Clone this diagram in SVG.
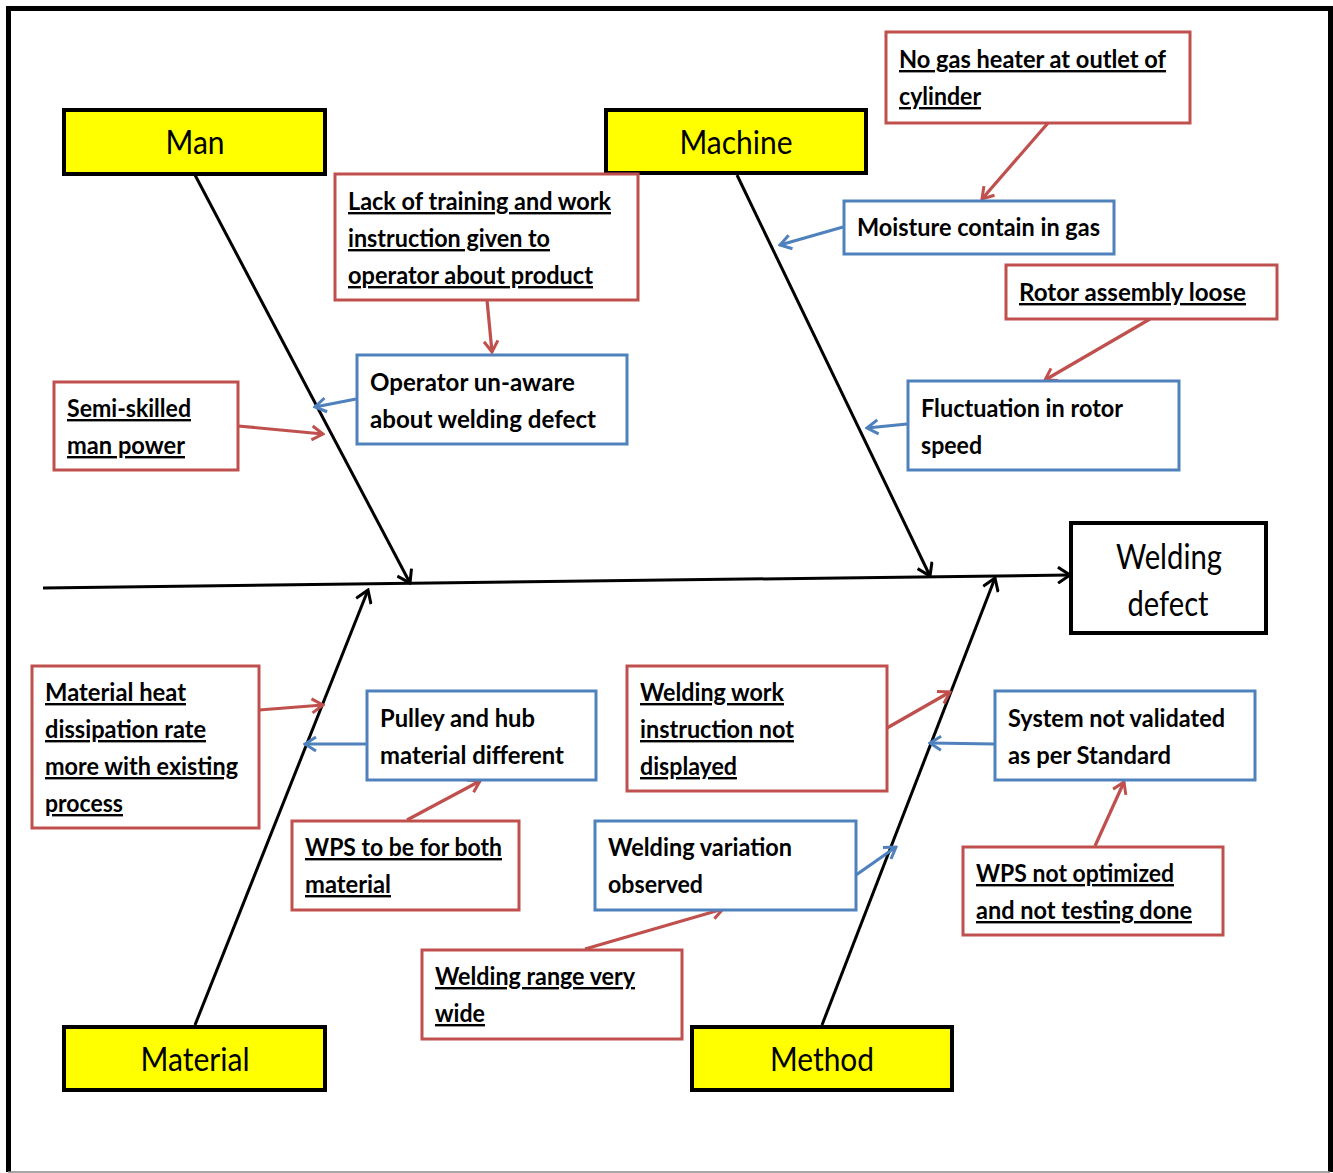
<svg xmlns="http://www.w3.org/2000/svg" width="1333" height="1173" viewBox="0 0 1333 1173">
<style>
.t{font-family:Lato,"Liberation Sans",sans-serif;font-weight:bold;font-size:24px;fill:#000}
.u{text-decoration:underline}
.lbl{font-family:Lato,"Liberation Sans",sans-serif;font-size:32px;fill:#000;text-anchor:middle}
.y{fill:#FFFF00;stroke:#000;stroke-width:4}
.r{fill:#fff;stroke:#C0504D;stroke-width:3}
.b{fill:#fff;stroke:#4F81BD;stroke-width:3}
.bone{stroke:#000;stroke-width:3;fill:none;marker-end:url(#ak)}
.ra{stroke:#C0504D;stroke-width:3.2;fill:none;marker-end:url(#ar)}
.ba{stroke:#4F81BD;stroke-width:3.2;fill:none;marker-end:url(#ab)}
</style>
<defs>
<marker id="ak" markerWidth="16" markerHeight="18" refX="14" refY="9" orient="auto" markerUnits="userSpaceOnUse"><path d="M2,1 L14,9 L2,17" fill="none" stroke="#000" stroke-width="3"/></marker>
<marker id="ar" markerWidth="16" markerHeight="18" refX="14" refY="9" orient="auto" markerUnits="userSpaceOnUse"><path d="M3,2 L14,9 L3,16" fill="none" stroke="#C0504D" stroke-width="3"/></marker>
<marker id="ab" markerWidth="16" markerHeight="18" refX="14" refY="9" orient="auto" markerUnits="userSpaceOnUse"><path d="M3,2 L14,9 L3,16" fill="none" stroke="#4F81BD" stroke-width="3"/></marker>
</defs>
<rect width="1333" height="1173" fill="#fff"/>
<path d="M8.5,1172 V8.5 H1330.5 V1172" fill="none" stroke="#000" stroke-width="5"/>
<line x1="8" y1="1172" x2="1330" y2="1172" stroke="#888" stroke-width="1.5"/>

<g id="connectors">
<path class="bone" d="M43,588 L1070,575"/>
<path class="bone" d="M195,175 L410,583"/>
<path class="bone" d="M737,175 L930,576"/>
<path class="bone" d="M195,1025 L368,590"/>
<path class="bone" d="M822,1025 L995,578"/>
<path class="ra" d="M487,300 L492,352"/>
<path class="ba" d="M356,399 L315,407"/>
<path class="ra" d="M238,426 L323,434"/>
<path class="ra" d="M1048,123 L982,199"/>
<path class="ba" d="M843,227 L780,245"/>
<path class="ra" d="M1150,319 L1045,380"/>
<path class="ba" d="M907,424 L867,428"/>
<path class="ra" d="M259,710 L323,705"/>
<path class="ba" d="M366,744 L305,744"/>
<path class="ra" d="M407,820 L480,781"/>
<path class="ra" d="M887,728 L950,692"/>
<path class="ba" d="M994,744 L930,743"/>
<path class="ra" d="M1095,846 L1124,782"/>
<path class="ba" d="M856,875 L896,847"/>
<path class="ra" d="M585,949 L723,909"/>
</g>

<g id="man"><rect class="y" x="64" y="110" width="261" height="64"/><text class="lbl" x="195" y="154" textLength="59" lengthAdjust="spacingAndGlyphs">Man</text></g>
<g id="machine"><rect class="y" x="606" y="110" width="260" height="63"/><text class="lbl" x="736" y="154" textLength="113" lengthAdjust="spacingAndGlyphs">Machine</text></g>
<g id="material"><rect class="y" x="64" y="1027" width="261" height="63"/><text class="lbl" x="195" y="1071" textLength="109" lengthAdjust="spacingAndGlyphs">Material</text></g>
<g id="method"><rect class="y" x="692" y="1027" width="260" height="63"/><text class="lbl" x="822" y="1071" textLength="104" lengthAdjust="spacingAndGlyphs">Method</text></g>
<g id="effect"><rect x="1071" y="523" width="195" height="110" fill="#fff" stroke="#000" stroke-width="4"/>
<text class="lbl" style="font-size:34px" x="1169" y="569" textLength="106" lengthAdjust="spacingAndGlyphs">Welding</text><text class="lbl" style="font-size:34px" x="1168" y="616" textLength="81" lengthAdjust="spacingAndGlyphs">defect</text></g>

<g id="lack"><rect class="r" x="335" y="174" width="303" height="126"/>
<text class="t u" x="348" y="210" textLength="263" lengthAdjust="spacingAndGlyphs">Lack of training and work</text>
<text class="t u" x="348" y="247" textLength="202" lengthAdjust="spacingAndGlyphs">instruction given to</text>
<text class="t u" x="348" y="284" textLength="245" lengthAdjust="spacingAndGlyphs">operator about product</text></g>

<g id="nogas"><rect class="r" x="886" y="32" width="304" height="91"/>
<text class="t u" x="899" y="68" textLength="267" lengthAdjust="spacingAndGlyphs">No gas heater at outlet of</text>
<text class="t u" x="899" y="105" textLength="82" lengthAdjust="spacingAndGlyphs">cylinder</text></g>

<g id="moisture"><rect class="b" x="844" y="201" width="270" height="53"/>
<text class="t" x="857" y="236" textLength="243" lengthAdjust="spacingAndGlyphs">Moisture contain in gas</text></g>

<g id="rotor"><rect class="r" x="1006" y="265" width="271" height="54"/>
<text class="t u" x="1019" y="301" textLength="227" lengthAdjust="spacingAndGlyphs">Rotor  assembly loose</text></g>

<g id="fluct"><rect class="b" x="908" y="381" width="271" height="89"/>
<text class="t" x="921" y="417" textLength="202" lengthAdjust="spacingAndGlyphs">Fluctuation in rotor</text>
<text class="t" x="921" y="454" textLength="61" lengthAdjust="spacingAndGlyphs">speed</text></g>

<g id="operator"><rect class="b" x="357" y="355" width="270" height="89"/>
<text class="t" x="370" y="391" textLength="205" lengthAdjust="spacingAndGlyphs">Operator  un-aware</text>
<text class="t" x="370" y="428" textLength="226" lengthAdjust="spacingAndGlyphs">about  welding defect</text></g>

<g id="semi"><rect class="r" x="54" y="382" width="184" height="88"/>
<text class="t u" x="67" y="417" textLength="124" lengthAdjust="spacingAndGlyphs">Semi-skilled</text>
<text class="t u" x="67" y="454" textLength="118" lengthAdjust="spacingAndGlyphs">man power</text></g>

<g id="heat"><rect class="r" x="32" y="666" width="227" height="162"/>
<text class="t u" x="45" y="701" textLength="141" lengthAdjust="spacingAndGlyphs">Material heat</text>
<text class="t u" x="45" y="738" textLength="161" lengthAdjust="spacingAndGlyphs">dissipation rate</text>
<text class="t u" x="45" y="775" textLength="193" lengthAdjust="spacingAndGlyphs">more with existing</text>
<text class="t u" x="45" y="812" textLength="78" lengthAdjust="spacingAndGlyphs">process</text></g>

<g id="pulley"><rect class="b" x="367" y="691" width="229" height="89"/>
<text class="t" x="380" y="727" textLength="155" lengthAdjust="spacingAndGlyphs">Pulley and hub</text>
<text class="t" x="380" y="764" textLength="184" lengthAdjust="spacingAndGlyphs">material different</text></g>

<g id="wpsboth"><rect class="r" x="292" y="821" width="227" height="89"/>
<text class="t u" x="305" y="856" textLength="197" lengthAdjust="spacingAndGlyphs">WPS to be for both</text>
<text class="t u" x="305" y="893" textLength="86" lengthAdjust="spacingAndGlyphs">material</text></g>

<g id="workinstr"><rect class="r" x="627" y="666" width="260" height="125"/>
<text class="t u" x="640" y="701" textLength="144" lengthAdjust="spacingAndGlyphs">Welding work</text>
<text class="t u" x="640" y="738" textLength="154" lengthAdjust="spacingAndGlyphs">instruction not</text>
<text class="t u" x="640" y="775" textLength="97" lengthAdjust="spacingAndGlyphs">displayed</text></g>

<g id="system"><rect class="b" x="995" y="691" width="260" height="89"/>
<text class="t" x="1008" y="727" textLength="217" lengthAdjust="spacingAndGlyphs">System not validated</text>
<text class="t" x="1008" y="764" textLength="163" lengthAdjust="spacingAndGlyphs">as per Standard</text></g>

<g id="wpsnot"><rect class="r" x="963" y="847" width="260" height="88"/>
<text class="t u" x="976" y="882" textLength="198" lengthAdjust="spacingAndGlyphs">WPS not optimized</text>
<text class="t u" x="976" y="919" textLength="216" lengthAdjust="spacingAndGlyphs">and not testing done</text></g>

<g id="variation"><rect class="b" x="595" y="821" width="261" height="89"/>
<text class="t" x="608" y="856" textLength="184" lengthAdjust="spacingAndGlyphs">Welding variation</text>
<text class="t" x="608" y="893" textLength="95" lengthAdjust="spacingAndGlyphs">observed</text></g>

<g id="range"><rect class="r" x="422" y="950" width="260" height="89"/>
<text class="t u" x="435" y="985" textLength="200" lengthAdjust="spacingAndGlyphs">Welding range very</text>
<text class="t u" x="435" y="1022" textLength="50" lengthAdjust="spacingAndGlyphs">wide</text></g>
</svg>
